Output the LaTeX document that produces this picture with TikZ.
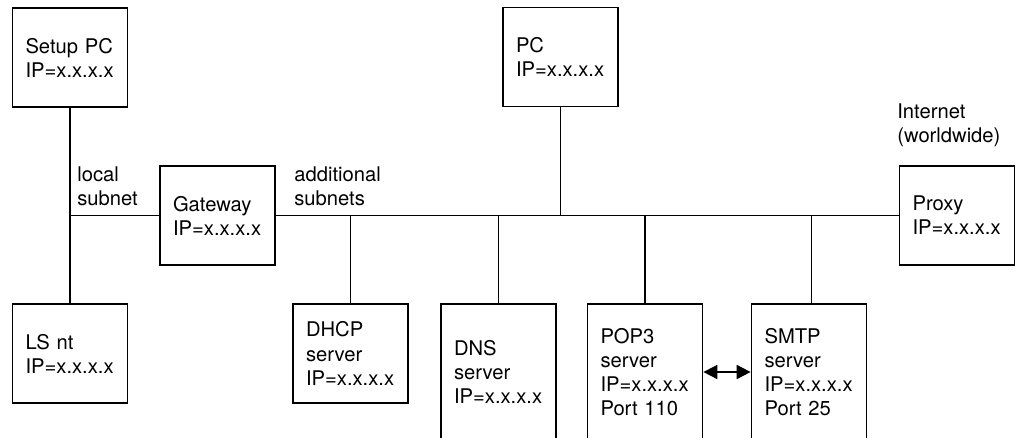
\documentclass[tikz,border=0pt]{standalone}
\usepackage{fontspec}
\setmainfont{TeX Gyre Heros}
\usetikzlibrary{arrows.meta}

\begin{document}
\begin{tikzpicture}[x=0.02cm, y=-0.02cm,
    txt/.style={font=\fontsize{11.5}{13.7}\selectfont},
    box/.style={txt, draw, line width=1pt, minimum height=1.98cm,
        text width=1.78cm, inner xsep=0.26cm, align=left},
    tallbox/.style={box, minimum height=2.72cm},
    lbl/.style={txt, inner sep=0pt, anchor=north west, align=left},
    wire/.style={line width=1pt}]
    \useasboundingbox (0,0) rectangle (1016,437);
    \clip (0,0) rectangle (1016,437);

% local side
\node[box] (setup) at (70,57.5) {Setup PC\\IP=x.x.x.x};
\node[box] (lsnt) at (70,353.5) {LS nt\\IP=x.x.x.x};
\node[box] (gateway) at (217.5,215.5) {Gateway\\IP=x.x.x.x};

% other subnets
\node[box] (pc) at (560.5,57) {PC\\IP=x.x.x.x};
\node[box] (proxy) at (957,215.5) {Proxy\\IP=x.x.x.x};
\node[box] (dhcp) at (350.5,353.5) {DHCP\\server\\IP=x.x.x.x};
\node[tallbox] (dns) at (498.5,372) {DNS\\server\\IP=x.x.x.x};
\node[tallbox] (pop3) at (645,372) {POP3\\server\\IP=x.x.x.x\\Port 110};
\node[tallbox] (smtp) at (809,372) {SMTP\\server\\IP=x.x.x.x\\Port 25};

% labels
\node[lbl] (local) at (77,166) {local\\subnet};
\node[lbl] (more) at (294,166) {additional\\subnets};
\node[lbl] (inet) at (897,103) {Internet\\(worldwide)};

% wires
\coordinate (lan) at (setup.south |- gateway.west);
\draw[wire] (setup.south) -- (lsnt.north);
\draw[wire] (lan) -- (gateway.west);
\draw[wire] (gateway.east) -- (proxy.west);
\draw[wire] (pc.south) -- (pc.south |- proxy.west);
\draw[wire] (dhcp.north) -- (dhcp.north |- proxy.west);
\draw[wire] (dns.north) -- (dns.north |- proxy.west);
\draw[wire] (pop3.north) -- (pop3.north |- proxy.west);
\coordinate (tap) at (811.5,215.5);
\draw[wire] (tap) -- (tap |- smtp.north);
\draw[wire, {Triangle[length=0.28cm,width=0.28cm]}-{Triangle[length=0.28cm,width=0.28cm]}] (pop3.east) -- (smtp.west);
\end{tikzpicture}
\end{document}
